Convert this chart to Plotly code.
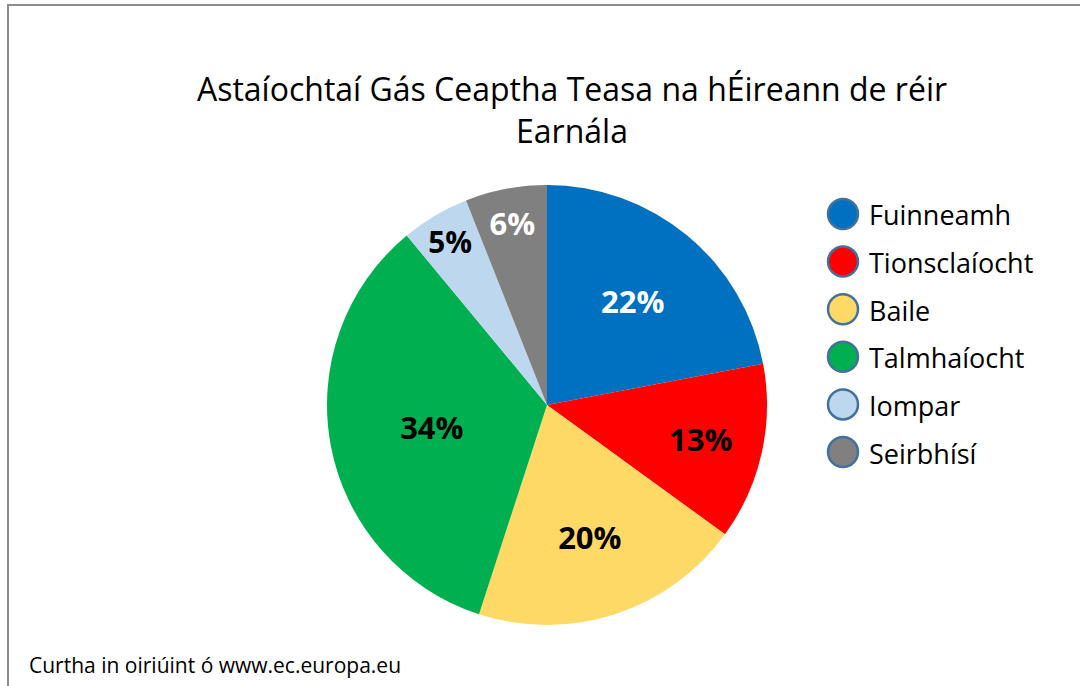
import plotly.graph_objects as go

# Data
categories = ["Fuinneamh", "Tionsclaíocht", "Baile", "Talmhaíocht", "Iompar", "Seirbhísí"]
shares = [22, 13, 20, 34, 5, 6]
colors = ["#0070C0", "#FF0000", "#FFD966", "#00B050", "#BDD7EE", "#808080"]
label_colors = ["white", "black", "black", "black", "black", "white"]
title_text = "Astaíochtaí Gás Ceaptha Teasa na hÉireann de réir<br>Earnála"
source_text = "Curtha in oiriúint ó www.ec.europa.eu"

W, H = 1080, 686
FONT = "Open Sans"

fig = go.Figure()
cx, cy, r = 547, 405, 220
fig.add_trace(go.Pie(
    labels=categories,
    values=shares,
    sort=False,
    direction="clockwise",
    rotation=0,
    marker=dict(colors=colors, line=dict(width=0)),
    texttemplate="%{value}%",
    textposition="inside",
    insidetextorientation="horizontal",
    textfont=dict(family=FONT, size=31, color=label_colors, weight="bold"),
    showlegend=False,
    hoverinfo="label+percent",
    domain=dict(x=[(cx - r) / W, (cx + r) / W], y=[1 - (cy + r) / H, 1 - (cy - r) / H]),
))

shapes = []
annotations = []
# Custom legend with circular markers
leg_x, leg_y0, leg_dy, mr = 843, 214, 47.6, 15
for i, (cat, col) in enumerate(zip(categories, colors)):
    y = leg_y0 + i * leg_dy
    shapes.append(dict(type="circle", xref="paper", yref="paper",
                       x0=(leg_x - mr) / W, x1=(leg_x + mr) / W,
                       y0=1 - (y + mr) / H, y1=1 - (y - mr) / H,
                       fillcolor=col, line=dict(color="#41719C", width=2.5)))
    annotations.append(dict(text=cat, xref="paper", yref="paper",
                            x=(leg_x + 24) / W, y=1 - (y + 1) / H, xanchor="left", yanchor="middle",
                            showarrow=False, font=dict(family=FONT, size=27, color="black")))

# Border (top and left)
shapes.append(dict(type="path", xref="paper", yref="paper",
                   path=f"M {8/W} 0 L {8/W} {1-5/H} L 1 {1-5/H}",
                   line=dict(color="#8C8C8C", width=2)))

annotations.append(dict(text=source_text, xref="paper", yref="paper",
                        x=27 / W, y=1 - 665 / H, xanchor="left", yanchor="middle",
                        showarrow=False, font=dict(family=FONT, size=21, color="black")))

fig.update_layout(
    width=W, height=H,
    margin=dict(l=0, r=0, t=0, b=0),
    paper_bgcolor="white",
    plot_bgcolor="white",
    title=dict(text=title_text, x=572 / W, xanchor="center", y=1 - 101 / H, yanchor="middle",
               font=dict(family=FONT, size=32, color="black")),
    shapes=shapes,
    annotations=annotations,
)

fig.write_html("out.html")
